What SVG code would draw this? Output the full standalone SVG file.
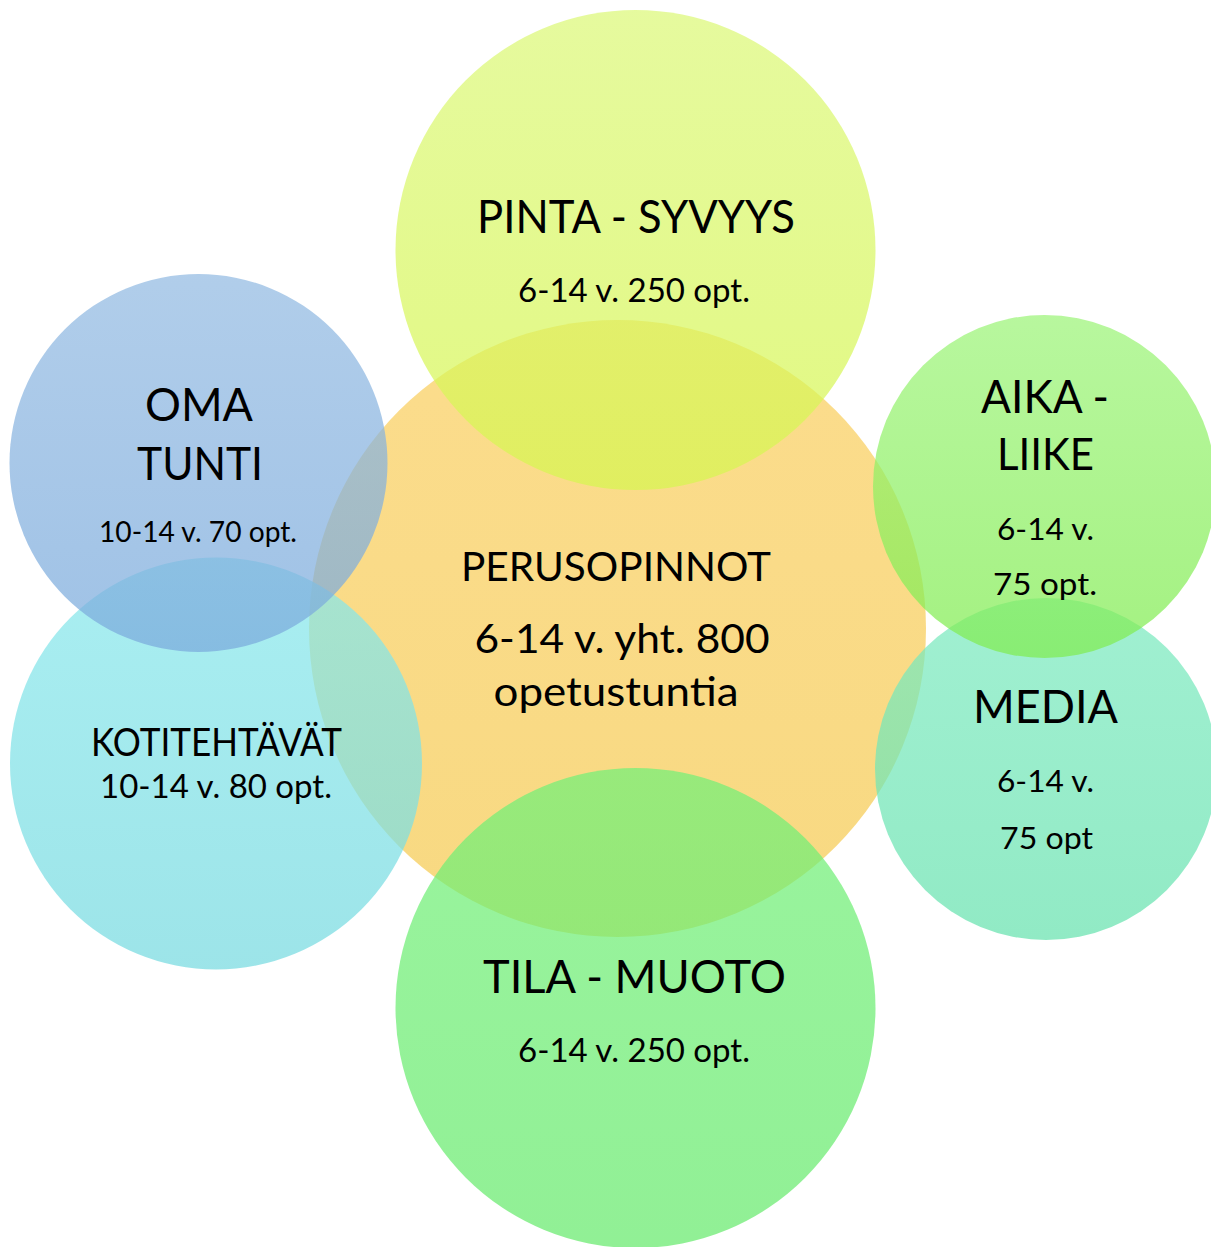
<svg xmlns="http://www.w3.org/2000/svg" width="1211" height="1247" viewBox="0 0 1211 1247">
<style>
.c{opacity:0.72}
text{font-family:Lato,"Open Sans","Liberation Sans",sans-serif;fill:#000;text-anchor:middle}
</style>
<defs>
<linearGradient id="gC" x1="0" y1="0" x2="0" y2="1"><stop offset="0" stop-color="#FACF60"/><stop offset="1" stop-color="#F5CA50"/></linearGradient>
<linearGradient id="gT" x1="0" y1="0" x2="0" y2="1"><stop offset="0" stop-color="#DCF878"/><stop offset="1" stop-color="#D6F650"/></linearGradient>
<linearGradient id="gB" x1="0" y1="0" x2="0" y2="1"><stop offset="0" stop-color="#72F078"/><stop offset="1" stop-color="#66EA6C"/></linearGradient>
<linearGradient id="gO" x1="0" y1="0" x2="0" y2="1"><stop offset="0" stop-color="#92BAE2"/><stop offset="1" stop-color="#7AAADC"/></linearGradient>
<linearGradient id="gK" x1="0" y1="0" x2="0" y2="1"><stop offset="0" stop-color="#88E8EC"/><stop offset="1" stop-color="#76DAE0"/></linearGradient>
<linearGradient id="gA" x1="0" y1="0" x2="0" y2="1"><stop offset="0" stop-color="#9CF478"/><stop offset="1" stop-color="#80EC50"/></linearGradient>
<linearGradient id="gM" x1="0" y1="0" x2="0" y2="1"><stop offset="0" stop-color="#7CEAC0"/><stop offset="1" stop-color="#66E2AE"/></linearGradient>
</defs>
<g id="perusopinnot">
<circle class="c" cx="617.5" cy="628.5" r="308.5" fill="url(#gC)"/>
</g>
<g id="pinta-syvyys">
<circle class="c" cx="635.5" cy="250" r="240" fill="url(#gT)"/>
</g>
<g id="tila-muoto">
<circle class="c" cx="635.5" cy="1008" r="240" fill="url(#gB)"/>
</g>
<g id="kotitehtavat">
<circle class="c" cx="216" cy="763.5" r="206" fill="url(#gK)"/>
</g>
<g id="oma-tunti">
<circle class="c" cx="198.5" cy="463" r="189" fill="url(#gO)"/>
</g>
<g id="media">
<circle class="c" cx="1046" cy="769" r="171" fill="url(#gM)"/>
</g>
<g id="aika-liike">
<circle class="c" cx="1044.5" cy="486.5" r="171.5" fill="url(#gA)"/>
</g>
<g id="connectors"/>
<g id="labels">
<text x="636" y="233" font-size="46" textLength="318" lengthAdjust="spacingAndGlyphs">PINTA - SYVYYS</text>
<text x="634" y="302" font-size="33.5" textLength="232" lengthAdjust="spacingAndGlyphs">6-14 v. 250 opt.</text>
<text x="616" y="581" font-size="41" textLength="310" lengthAdjust="spacingAndGlyphs">PERUSOPINNOT</text>
<text x="622" y="653" font-size="40" textLength="295" lengthAdjust="spacingAndGlyphs">6-14 v. yht. 800</text>
<text x="616" y="706" font-size="40" textLength="245" lengthAdjust="spacingAndGlyphs">opetustuntia</text>
<text x="634.5" y="993" font-size="46" textLength="303" lengthAdjust="spacingAndGlyphs">TILA - MUOTO</text>
<text x="634" y="1062" font-size="33.5" textLength="232" lengthAdjust="spacingAndGlyphs">6-14 v. 250 opt.</text>
<text x="199" y="421" font-size="46" textLength="108" lengthAdjust="spacingAndGlyphs">OMA</text>
<text x="200" y="480" font-size="46" textLength="126" lengthAdjust="spacingAndGlyphs">TUNTI</text>
<text x="198" y="542" font-size="29" textLength="198" lengthAdjust="spacingAndGlyphs">10-14 v. 70 opt.</text>
<text x="216.5" y="756" font-size="38" textLength="251" lengthAdjust="spacingAndGlyphs">KOTITEHTÄVÄT</text>
<text x="216" y="798" font-size="33.5" textLength="232" lengthAdjust="spacingAndGlyphs">10-14 v. 80 opt.</text>
<text x="1045" y="413" font-size="46" textLength="128" lengthAdjust="spacingAndGlyphs">AIKA -</text>
<text x="1045.5" y="470" font-size="44" textLength="97" lengthAdjust="spacingAndGlyphs">LIIKE</text>
<text x="1045.5" y="540" font-size="31" textLength="97" lengthAdjust="spacingAndGlyphs">6-14 v.</text>
<text x="1045" y="595" font-size="31" textLength="104" lengthAdjust="spacingAndGlyphs">75 opt.</text>
<text x="1045.5" y="723" font-size="46" textLength="145" lengthAdjust="spacingAndGlyphs">MEDIA</text>
<text x="1045.5" y="792" font-size="31" textLength="97" lengthAdjust="spacingAndGlyphs">6-14 v.</text>
<text x="1046.5" y="849" font-size="31" textLength="93" lengthAdjust="spacingAndGlyphs">75 opt</text>
</g>
</svg>
